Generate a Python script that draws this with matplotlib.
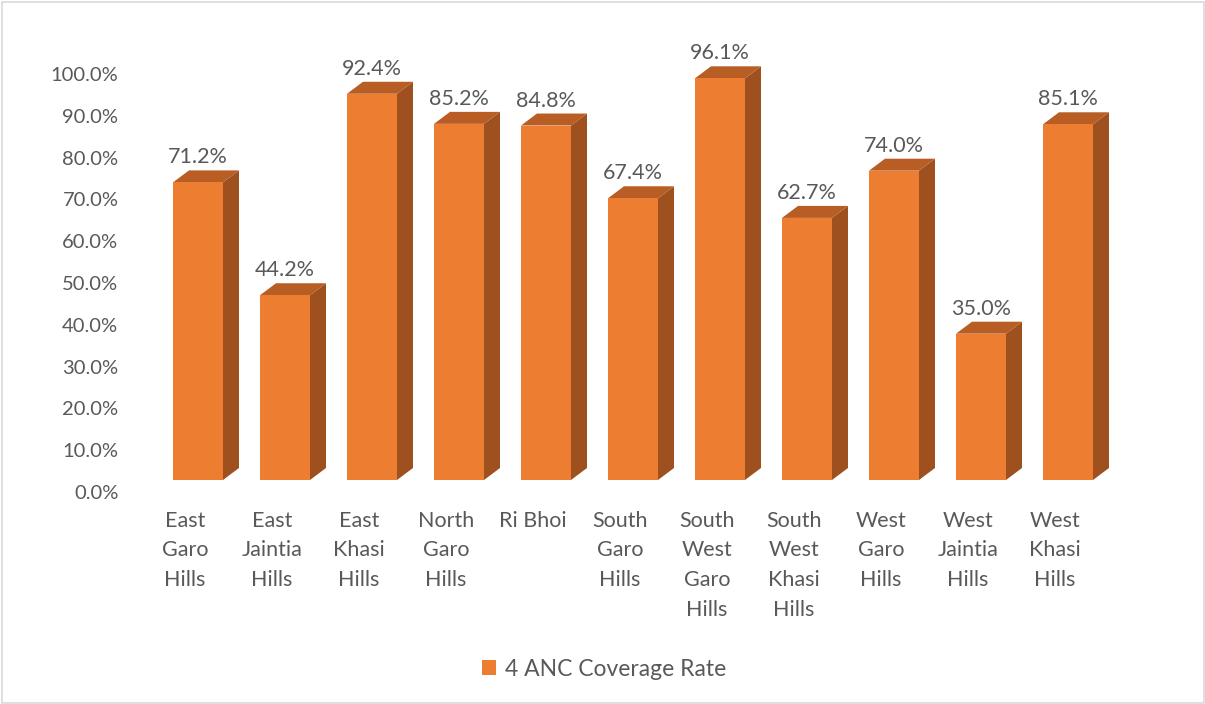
import matplotlib
matplotlib.use("Agg")
import matplotlib.pyplot as plt
from matplotlib.patches import Polygon, Rectangle, Patch
from matplotlib.transforms import ScaledTranslation

categories = ["East\nGaro\nHills", "East\nJaintia\nHills", "East\nKhasi\nHills", "North\nGaro\nHills",
              "Ri Bhoi", "South\nGaro\nHills", "South\nWest\nGaro\nHills", "South\nWest\nKhasi\nHills",
              "West\nGaro\nHills", "West\nJaintia\nHills", "West\nKhasi\nHills"]
values = [71.2, 44.2, 92.4, 85.2, 84.8, 67.4, 96.1, 62.7, 74.0, 35.0, 85.1]
series_name = "4 ANC Coverage Rate"
yticks = [0, 10, 20, 30, 40, 50, 60, 70, 80, 90, 100]

plt.rcParams['font.family'] = ['Lato', 'DejaVu Sans']
TXT = '#595959'
FRONT = '#ED7D31'
SIDE = '#9E501F'
TOP = '#B85E24'

W, H, DPI = 1205, 704, 100
fig = plt.figure(figsize=(W / DPI, H / DPI), dpi=DPI)
ax = fig.add_axes([154.5 / W, (H - 480) / H, 957 / W, 418 / H])
ax.set_xlim(-0.5, len(values) - 0.5)
ax.set_ylim(0, 100)

bw = 50 / 87
ddx = 16 / 87
ddy = 12 / 418 * 100
xs = list(range(len(values)))
ax.bar(xs, values, width=bw, color=FRONT, zorder=3)
for x, v in zip(xs, values):
    l, r = x - bw / 2, x + bw / 2
    ax.add_patch(Polygon([(r, 0), (r + ddx, ddy), (r + ddx, v + ddy), (r, v)],
                         closed=True, facecolor=SIDE, edgecolor='none', clip_on=False, zorder=2))
    ax.add_patch(Polygon([(l, v), (l + ddx, v + ddy), (r + ddx, v + ddy), (r, v)],
                         closed=True, facecolor=TOP, edgecolor='none', clip_on=False, zorder=2))
    ax.annotate(f"{v:.1f}%", (x, v), xytext=(0, 18), textcoords='offset points',
                ha='center', va='center', fontsize=15.5, color=TXT, annotation_clip=False)

for s in ax.spines.values():
    s.set_visible(False)
ax.set_yticks(yticks)
ax.set_yticklabels([f"{t:.1f}%" for t in yticks], fontsize=14.5, color=TXT)
ax.tick_params(axis='y', length=0, pad=26)
ax.set_xticks(xs)
ax.set_xticklabels(categories, fontsize=15.5, color=TXT, linespacing=1.62, ha='center', va='top')
ax.tick_params(axis='x', length=0, pad=22)
off_y = ScaledTranslation(0, -12 / DPI, fig.dpi_scale_trans)
for lab in ax.get_yticklabels():
    lab.set_transform(lab.get_transform() + off_y)
off_x = ScaledTranslation(-13 / DPI, 0, fig.dpi_scale_trans)
for lab in ax.get_xticklabels():
    lab.set_transform(lab.get_transform() + off_x)

handle = Patch(facecolor=FRONT, edgecolor='none')
fig.legend([handle], [series_name], loc='center', bbox_to_anchor=(604 / W, 1 - 669 / H),
           frameon=False, fontsize=16.5, labelcolor=TXT, handlelength=0.6, handleheight=0.6,
           handletextpad=0.4)

fig.add_artist(Rectangle((1.5 / W, 1.5 / H), 1 - 3 / W, 1 - 3 / H, transform=fig.transFigure,
                         fill=False, edgecolor='#D9D9D9', linewidth=1.2))

fig.savefig("out.png", dpi=DPI, facecolor='white')
